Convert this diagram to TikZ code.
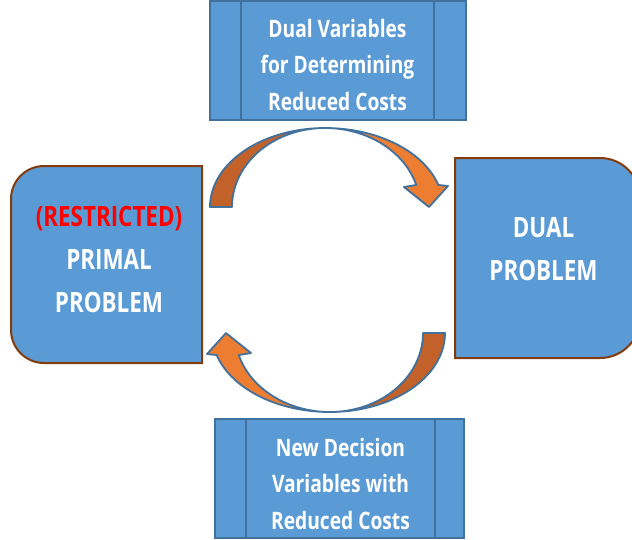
\documentclass[tikz,border=0pt]{standalone}
\usepackage{fontspec}
\setmainfont{Open Sans}[FakeStretch=0.8]
\definecolor{boxfill}{HTML}{5B9BD5}
\definecolor{boxline}{HTML}{41719C}
\definecolor{brownline}{HTML}{843C0C}
\definecolor{orgdark}{HTML}{C2612A}
\definecolor{orglight}{HTML}{ED7D31}
\definecolor{redtxt}{HTML}{FF0000}
\begin{document}
\begin{tikzpicture}[x=1pt,y=-1pt,
  bluebox/.style={draw=boxline, fill=boxfill, line width=2pt},
  brownbox/.style={draw=brownline, fill=boxfill, line width=2pt},
  divline/.style={draw=boxline, line width=2pt},
  arrowdark/.style={draw=boxline, fill=orgdark, line width=1.8pt, line join=round},
  arrowlight/.style={draw=boxline, fill=orglight, line width=1.8pt, line join=round},
  lbl/.style={text=white, font=\bfseries\fontsize{24}{36.5}\selectfont, align=center, inner sep=0pt},
  biglbl/.style={text=white, font=\bfseries\fontsize{28}{43}\selectfont, align=center, inner sep=0pt}]
\clip (0,0) rectangle (632,539);
\fill[white] (0,0) rectangle (632,539);
% top box
\node[bluebox, minimum width=256.5pt, minimum height=118.5pt, inner sep=0pt] (topbox) at (337.75,60.25) {};
\draw[divline] ([xshift=32.5pt]topbox.north west) -- ([xshift=32.5pt]topbox.south west);
\draw[divline] ([xshift=-33pt]topbox.north east) -- ([xshift=-33pt]topbox.south east);
% bottom box
\node[bluebox, minimum width=249pt, minimum height=119pt, inner sep=0pt] (botbox) at (339.5,478.5) {};
\draw[divline] ([xshift=32pt]botbox.north west) -- ([xshift=32pt]botbox.south west);
\draw[divline] ([xshift=-30pt]botbox.north east) -- ([xshift=-30pt]botbox.south east);
% left box
\draw[brownbox] (202,166) -- (44,166) .. controls (25.8,166) and (11,180.8) .. (11,199) -- (11,330) .. controls (11,348.2) and (25.8,363) .. (44,363) -- (202,363) -- cycle;
% right box
\draw[brownbox] (455,158) -- (600,158) .. controls (622.1,158) and (640,175.9) .. (640,198) -- (640,318) .. controls (640,340.1) and (622.1,358) .. (600,358) -- (455,358) -- cycle;
% top arrow
\draw[arrowdark] plot[domain=180:90, samples=40] ({325+115*cos(\x)},{207-79*sin(\x)}) -- plot[domain=90:180, samples=40] ({325+93*cos(\x)},{207-79*sin(\x)}) -- cycle;
\draw[arrowlight] plot[domain=90:16.2, samples=40] ({325+118*cos(\x)},{207-79*sin(\x)}) -- (448,186) -- (429,207) -- (404,187) -- plot[domain=16.2:90, samples=40] ({325+95*cos(\x)},{207-79*sin(\x)}) -- cycle;
% bottom arrow
\begin{scope}[rotate around={180:(327.5,270)}]
\draw[arrowdark] plot[domain=180:90, samples=40] ({325+115*cos(\x)},{207-79*sin(\x)}) -- plot[domain=90:180, samples=40] ({325+93*cos(\x)},{207-79*sin(\x)}) -- cycle;
\draw[arrowlight] plot[domain=90:16.2, samples=40] ({325+118*cos(\x)},{207-79*sin(\x)}) -- (448,186) -- (429,207) -- (404,187) -- plot[domain=16.2:90, samples=40] ({325+95*cos(\x)},{207-79*sin(\x)}) -- cycle;
\end{scope}
% texts
\node[lbl] (toptxt) at (337.5,64.5) {Dual Variables\\for Determining\\Reduced Costs};
\node[lbl] (bottxt) at (340.5,483.5) {New Decision\\Variables with\\Reduced Costs};
\node[biglbl] (lefttxt) at (109,259) {\textcolor{redtxt}{(RESTRICTED)}\\PRIMAL\\PROBLEM};
\node[biglbl] (righttxt) at (543.5,249.5) {DUAL\\PROBLEM};
\end{tikzpicture}
\end{document}
